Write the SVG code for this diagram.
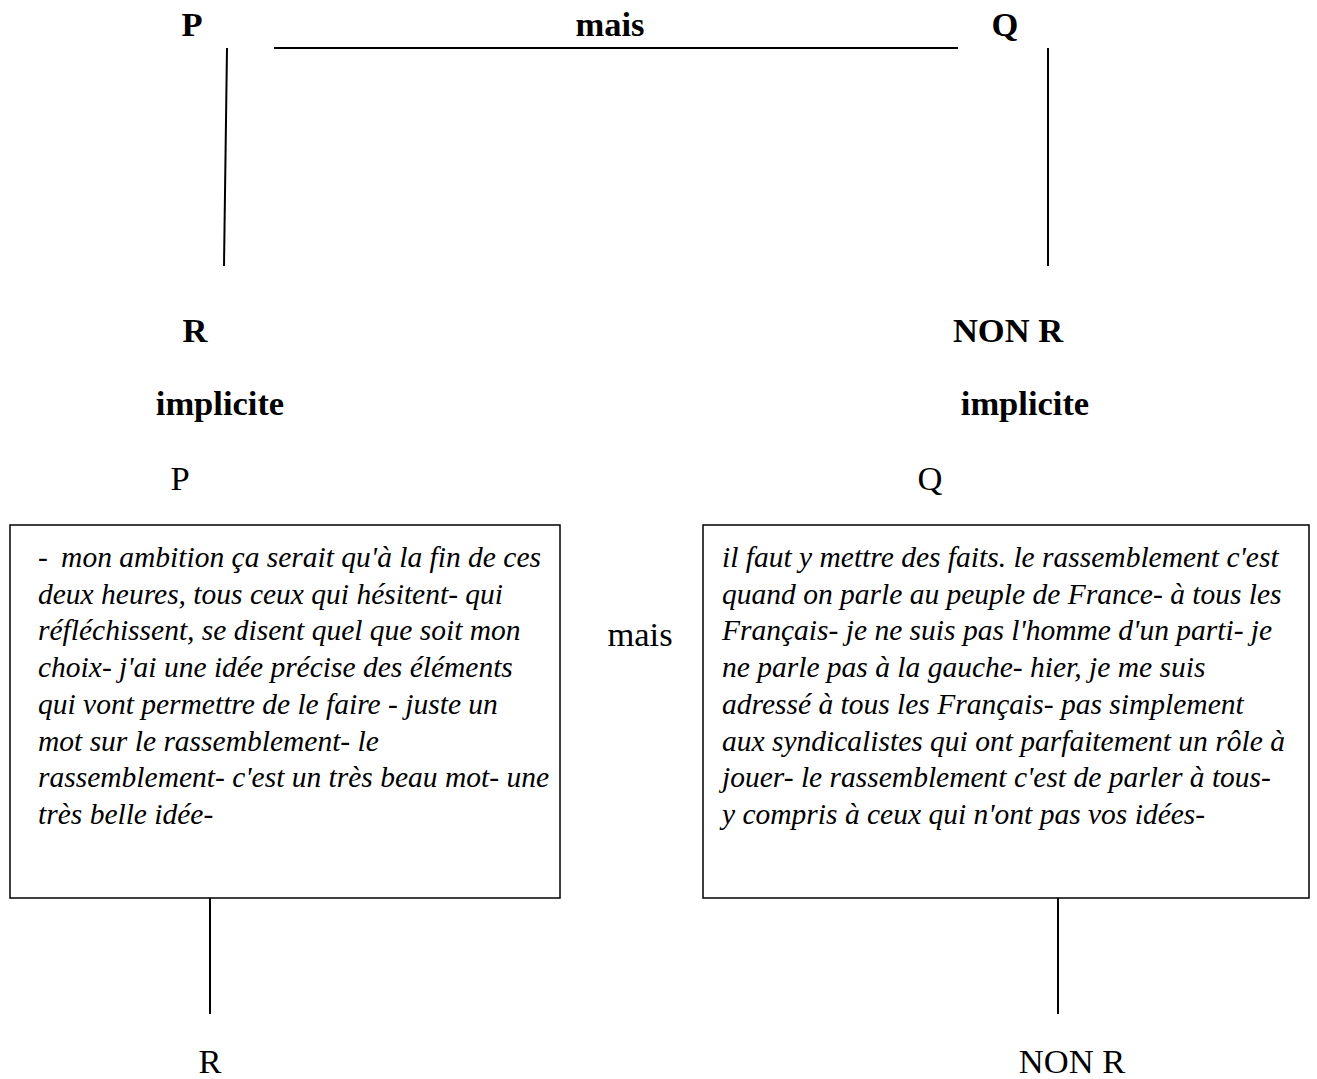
<svg xmlns="http://www.w3.org/2000/svg" width="1317" height="1079" viewBox="0 0 1317 1079">
<style>
text{font-family:"Liberation Serif","Times New Roman",serif;fill:#000}
.b{font-weight:bold;font-size:34.5px}
.r{font-size:34.5px}
.i{font-style:italic;font-size:29.5px}
.ln{stroke:#000;stroke-width:2;fill:none}
.box{stroke:#000;stroke-width:1.5;fill:#fff}
</style>
<rect width="1317" height="1079" fill="#fff"/>
<g id="connectors">
<line class="ln" x1="274" y1="48" x2="958" y2="48"/>
<line class="ln" x1="227" y1="48" x2="224" y2="266"/>
<line class="ln" x1="1048" y1="48" x2="1048" y2="266"/>
<line class="ln" x1="210" y1="898" x2="210" y2="1014"/>
<line class="ln" x1="1058" y1="898" x2="1058" y2="1014"/>
</g>
<g id="top-P"><text class="b" x="192" y="36" text-anchor="middle">P</text></g>
<g id="top-mais"><text class="b" x="610" y="36" text-anchor="middle">mais</text></g>
<g id="top-Q"><text class="b" x="1005" y="36" text-anchor="middle">Q</text></g>
<g id="R-left"><text class="b" x="195" y="342" text-anchor="middle">R</text></g>
<g id="R-right"><text class="b" x="1008" y="342" text-anchor="middle">NON R</text></g>
<g id="impl-left"><text class="b" x="220" y="415" text-anchor="middle">implicite</text></g>
<g id="impl-right"><text class="b" x="1025" y="415" text-anchor="middle">implicite</text></g>
<g id="label-P"><text class="r" x="180" y="490" text-anchor="middle">P</text></g>
<g id="label-Q"><text class="r" x="930" y="490" text-anchor="middle">Q</text></g>
<g id="mid-mais"><text class="r" x="640" y="646" text-anchor="middle">mais</text></g>
<g id="box-P">
<rect class="box" x="10" y="525" width="550" height="373"/>
<text class="i">
<tspan x="38" y="567">-&#8201; mon ambition ça serait qu'à la fin de ces</tspan>
<tspan x="38" y="603.7">deux heures, tous ceux qui hésitent- qui</tspan>
<tspan x="38" y="640.4">réfléchissent, se disent quel que soit mon</tspan>
<tspan x="38" y="677.1">choix- j'ai une idée précise des éléments</tspan>
<tspan x="38" y="713.8">qui vont permettre de le faire - juste un</tspan>
<tspan x="38" y="750.5">mot sur le rassemblement- le</tspan>
<tspan x="38" y="787.2">rassemblement- c'est un très beau mot- une</tspan>
<tspan x="38" y="823.9">très belle idée-</tspan>
</text>
</g>
<g id="box-Q">
<rect class="box" x="703" y="525" width="606" height="373"/>
<text class="i">
<tspan x="722" y="567">il faut y mettre des faits. le rassemblement c'est</tspan>
<tspan x="722" y="603.7">quand on parle au peuple de France- à tous les</tspan>
<tspan x="722" y="640.4">Français- je ne suis pas l'homme d'un parti- je</tspan>
<tspan x="722" y="677.1">ne parle pas à la gauche- hier, je me suis</tspan>
<tspan x="722" y="713.8">adressé à tous les Français- pas simplement</tspan>
<tspan x="722" y="750.5">aux syndicalistes qui ont parfaitement un rôle à</tspan>
<tspan x="722" y="787.2">jouer- le rassemblement c'est de parler à tous-</tspan>
<tspan x="722" y="823.9">y compris à ceux qui n'ont pas vos idées-</tspan>
</text>
</g>
<g id="bottom-R"><text class="r" x="210" y="1073" text-anchor="middle">R</text></g>
<g id="bottom-NONR"><text class="r" x="1072" y="1073" text-anchor="middle">NON R</text></g>
</svg>
